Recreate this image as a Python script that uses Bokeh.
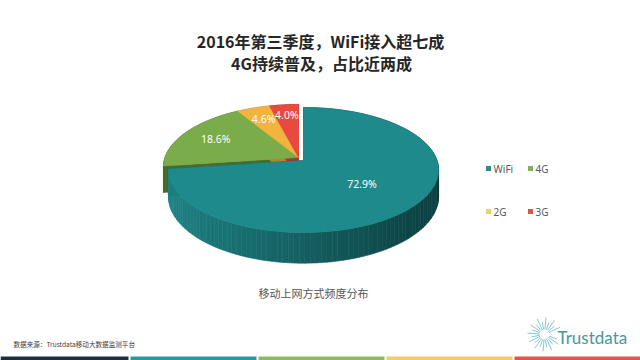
import numpy as np
from bokeh.plotting import figure
from bokeh.models import Range1d
from bokeh.core.properties import value
from bokeh.embed import file_html
from bokeh.resources import INLINE

# ---------------- data ----------------
title_lines = ["2016年第三季度，WiFi接入超七成", "4G持续普及，占比近两成"]
subtitle = "移动上网方式频度分布"
source_note = "数据来源：Trustdata移动大数据监测平台"
brand = "Trustdata"
categories = ["WiFi", "4G", "2G", "3G"]
shares = [72.9, 18.6, 4.6, 4.0]
share_labels = ["72.9%", "18.6%", "4.6%", "4.0%"]

# ---------------- styles ----------------
top_colors = ["#1e8a8c", "#7aac49", "#f1b43f", "#e84a3f"]
side_colors = ["#135f61", "#4a6b2b", "#b5822a", "#a8342c"]
legend_colors = ["#2a8c8e", "#80b058", "#e9d070", "#d9554f"]
strip_colors = ["#1f2e3e", "#2a9aa0", "#8cba5c", "#f2ca6c", "#e0574a"]
rim_light = np.array([30, 132, 134])
rim_dark = np.array([10, 58, 60])

CX, CY = 303.0, 160.0      # pie apex (reference pixels)
A, B, K = 133.5, 61.1, 0.152
DEPTH = 26.0
EXPLODE = (-5.0, -3.0)
label_r = [0.55, 0.72, 0.75, 0.78]

W, H = 640, 360
p = figure(width=W, height=H, x_range=Range1d(0, 640), y_range=Range1d(360, 0),
           output_backend="svg", toolbar_location=None,
           x_axis_location=None, y_axis_location=None, min_border=0)
p.grid.visible = False
p.outline_line_color = None
p.background_fill_color = "white"
p.border_fill_color = "white"


def proj(theta_deg, r=1.0, dx=0.0, dy=0.0, drop=0.0):
    t = np.radians(theta_deg)
    u = r * np.cos(t)
    v = r * np.sin(t)
    s = 1.0 / (1.0 + K * v)
    return CX + dx + A * u * s, CY + dy - B * v * s + drop * s


def hexcol(c):
    c = np.clip(np.round(c), 0, 255).astype(int)
    return "#%02x%02x%02x" % tuple(c)


total = float(sum(shares))
starts, ends = [], []
ang = 90.0
for s in shares:
    starts.append(ang)
    ang -= 360.0 * s / total
    ends.append(ang)


def slice_geometry(i):
    dx, dy = (0.0, 0.0) if i == 0 else EXPLODE
    n = max(8, int(abs(starts[i] - ends[i]) / 2))
    th = np.linspace(starts[i], ends[i], n)
    rx, ry = proj(th, 1.0, dx, dy)
    bx, by = proj(th, 1.0, dx, dy, DEPTH)
    ax, ay = proj(0.0, 0.0, dx, dy)
    abx, aby = proj(0.0, 0.0, dx, dy, DEPTH)
    top = ([ax] + list(rx), [ay] + list(ry))
    quads_x, quads_y, cols = [], [], []
    for j in (0, -1):
        quads_x.append([ax, rx[j], bx[j], abx])
        quads_y.append([ay, ry[j], by[j], aby])
        cols.append(side_colors[i])
    for j in range(n - 1):
        quads_x.append([rx[j], rx[j + 1], bx[j + 1], bx[j]])
        quads_y.append([ry[j], ry[j + 1], by[j + 1], by[j]])
        if i == 0:
            um = np.cos(np.radians(0.5 * (th[j] + th[j + 1])))
            f = (um + 1) / 2
            cols.append(hexcol(rim_light + f * (rim_dark - rim_light)))
        else:
            cols.append(side_colors[i])
    return top, quads_x, quads_y, cols


geo = {i: slice_geometry(i) for i in range(len(shares))}
# exploded slices: sides first, then tops
for i in [1, 2, 3]:
    _, qx, qy, qc = geo[i]
    p.patches(xs=qx, ys=qy, fill_color=qc, line_color=qc, line_width=0.6)
for i in [1, 2, 3]:
    top = geo[i][0]
    p.patch(x=top[0], y=top[1], fill_color=top_colors[i], line_color=top_colors[i], line_width=0.6)
# main slice
top, qx, qy, qc = geo[0]
p.patches(xs=qx, ys=qy, fill_color=qc, line_color=qc, line_width=0.6)
p.patch(x=top[0], y=top[1], fill_color=top_colors[0], line_color=top_colors[0], line_width=0.6)

# percentage labels
lx, ly = [], []
for i in range(len(shares)):
    dx, dy = (0.0, 0.0) if i == 0 else EXPLODE
    mid = 0.5 * (starts[i] + ends[i])
    x, y = proj(mid, label_r[i], dx, dy)
    lx.append(float(x))
    ly.append(float(y))
p.text(x=lx, y=ly, text=share_labels, text_color="white", text_align="center",
       text_baseline="middle", text_font=value("Noto Sans"), text_font_size=value("10.5px"))

# titles
p.text(x=[320, 321], y=[40, 62], text=title_lines, text_color="#262626", text_align="center",
       text_baseline="middle", text_font=value("Noto Sans CJK SC"), text_font_size=value("16px"),
       text_font_style="bold")
p.text(x=[313], y=[292], text=[subtitle], text_color="#555555", text_align="center",
       text_baseline="middle", text_font=value("Noto Sans CJK SC"), text_font_size=value("11px"))

# legend
leg_x = [488, 530, 488, 530]
leg_y = [168, 168, 211, 211]
p.rect(x=leg_x, y=leg_y, width=5, height=5, width_units="screen", height_units="screen",
       fill_color=legend_colors, line_color=None)
p.text(x=[v + 5 for v in leg_x], y=leg_y, text=categories, text_color="#595959", text_align="left",
       text_baseline="middle", text_font=value("Noto Sans"), text_font_size=value("10px"))

# footer
p.text(x=[13], y=[343], text=[source_note], text_color="#404040", text_align="left",
       text_baseline="middle", text_font=value("Noto Sans CJK SC"), text_font_size=value("6.6px"))

# logo
ray_angles = np.arange(25, 345, 15)
ray_len = np.where(np.arange(len(ray_angles)) % 2 == 0, 12.0, 8.0)
r_in = 5.0
lcx, lcy = 544.0, 334.0
x0 = lcx + r_in * np.cos(np.radians(ray_angles))
y0 = lcy - r_in * np.sin(np.radians(ray_angles))
x1 = lcx + (r_in + ray_len) * np.cos(np.radians(ray_angles))
y1 = lcy - (r_in + ray_len) * np.sin(np.radians(ray_angles))
p.segment(x0=x0, y0=y0, x1=x1, y1=y1, line_color="#6ab6c6", line_width=0.8)
p.text(x=[557], y=[337], text=[brand], text_color="#4796a8", text_align="left",
       text_baseline="middle", text_font=value("Lato"), text_font_size=value("17px"))

# bottom colour strip
seg_left = [0, 130, 258, 386, 514]
seg_right = [128, 256, 384, 512, 640]
p.quad(left=seg_left, right=seg_right, top=[356] * 5, bottom=[360] * 5,
       fill_color=strip_colors, line_color=None)

open("out.html", "w").write(file_html(p, INLINE))
